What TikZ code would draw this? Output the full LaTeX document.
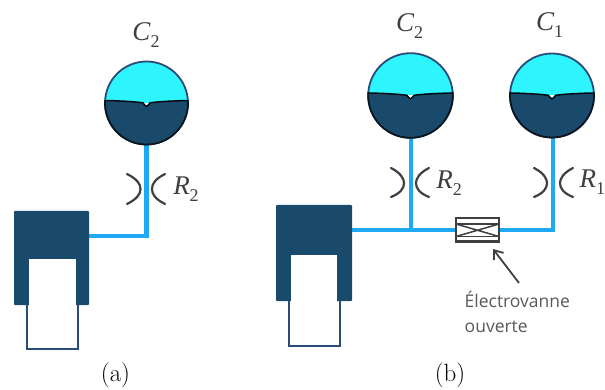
\documentclass[tikz,border=0pt]{standalone}
\usepackage{fontspec}
\setmainfont{Latin Modern Roman}
\newfontfamily\symfont{Liberation Serif}
\newfontfamily\lblfont{Open Sans}
\definecolor{cyanfill}{HTML}{2EF4FE}
\definecolor{navy}{HTML}{1A4A6B}
\definecolor{edgeblue}{HTML}{2B4B78}
\definecolor{tube}{HTML}{1FA9F5}
\definecolor{inkgray}{HTML}{3F3F3F}
\definecolor{softgray}{HTML}{595959}
\newcommand{\symsub}[1]{\raisebox{-0.55ex}{\fontsize{18}{18}\selectfont\upshape #1}}
\tikzset{
  x=1pt,y=-1pt,
  tubeline/.style={draw=tube,line width=4.2pt},
  restrictor/.style={draw=inkgray,line width=2.2pt,line cap=round},
  body/.style={fill=navy,draw=none},
  whitebox/.style={fill=white,draw=none},
  symlbl/.style={text=inkgray,font=\symfont\itshape\fontsize{27}{27}\selectfont,inner sep=0pt},
  caplbl/.style={text=black,font=\fontsize{25}{26}\selectfont,inner sep=0pt},
  smalllbl/.style={text=softgray,font=\lblfont\fontsize{17.5}{25}\selectfont,inner sep=0pt,align=left}
}
\newcommand{\levelline}[2]{%
  ($(#1)+(-45,#2-2.6)$) .. controls ($(#1)+(-25,#2-2.2)$) and ($(#1)+(-10,#2-1.2)$) .. ($(#1)+(-3.6,#2-.2)$) .. controls ($(#1)+(-2,#2+.4)$) and ($(#1)+(-2.2,#2+3.4)$) .. ($(#1)+(0,#2+3.4)$) .. controls ($(#1)+(2.2,#2+3.4)$) and ($(#1)+(2,#2+.4)$) .. ($(#1)+(3.6,#2-.2)$) .. controls ($(#1)+(10,#2-1.2)$) and ($(#1)+(25,#2-2.2)$) .. ($(#1)+(45,#2-2.6)$)}
\newcommand{\accuhalf}[3]{% center name, radius, level offset
  \begin{scope}
    \clip (#1) circle[radius=#2];
    \fill[cyanfill] ($(#1)+(-50,-50)$) rectangle ($(#1)+(50,#3)$);
    \fill[navy] \levelline{#1}{#3} -- ($(#1)+(45,50)$) -- ($(#1)+(-45,50)$) -- cycle;
    \draw[black!85!navy,line width=1.5pt] \levelline{#1}{#3};
  \end{scope}
  \draw[edgeblue,line width=1.8pt] (#1) circle[radius=#2];
  \begin{scope}
    \clip ($(#1)+(-50,#3-2.5)$) rectangle ($(#1)+(50,50)$);
    \draw[black!70!navy,line width=1.8pt] (#1) circle[radius=#2];
  \end{scope}
}
\usetikzlibrary{calc,arrows.meta}
\begin{document}
\begin{tikzpicture}
\useasboundingbox (0,0) rectangle (605,390);
\fill[white] (0,0) rectangle (605,390);

% ---------- (a)
\coordinate (ca) at (146.5,103);
\coordinate (ja) at (146.5,236);
\coordinate (sa) at (89,236);
\coordinate (aBot) at (146.5,144);
\draw[tubeline] (aBot) -- (ja) -- (sa);
\accuhalf{ca}{41.5}{0}
\node[symlbl] (lCa) at (146,35) {C\symsub{2}};
\node[symlbl] (lRa) at (186,189) {R\symsub{2}};
\draw[restrictor] (127,174) .. controls (137,179) and (140.5,184) .. (140.5,189) .. controls (140.5,194) and (137,199) .. (127,204);
\draw[restrictor] (165,174) .. controls (155,179) and (152,184) .. (152,189) .. controls (152,194) and (155,199) .. (165,204);
\fill[body,rounded corners=.8pt] (14,211) rectangle (89,305);
\fill[whitebox] (28.5,259) rectangle (76,347.7);
\draw[edgeblue,line width=2pt] (26.5,305) -- (26.5,349) -- (77.8,349) -- (77.8,305);
\node[caplbl] (capa) at (115.5,375) {(a)};

% ---------- (b)
\coordinate (c2) at (410.5,95.5);
\coordinate (c1) at (552,95.5);
\coordinate (j2) at (411,230);
\coordinate (corner) at (553,230);
\coordinate (sb) at (352,230);
\coordinate (c2b) at (411,137);
\coordinate (c1b) at (553,137);
\draw[tubeline] (sb) -- (corner) -- (c1b);
\draw[tubeline] (c2b) -- (j2);
\accuhalf{c2}{42.3}{0}
\accuhalf{c1}{42}{0}
\node[symlbl] (lC2) at (409.5,26) {C\symsub{2}};
\node[symlbl] (lC1) at (549.5,25) {C\symsub{1}};
\node[symlbl] (lR2) at (449,183) {R\symsub{2}};
\node[symlbl,anchor=west] (lR1) at (579.5,182) {R\symsub{1}};
\draw[restrictor] (391,168) .. controls (401,173) and (404,179) .. (404,183) .. controls (404,188) and (401,193) .. (391,197);
\draw[restrictor] (429,168) .. controls (419,173) and (416,179) .. (416,183) .. controls (416,188) and (419,193) .. (429,197);
\draw[restrictor] (534,168) .. controls (544,173) and (547,179) .. (547,183) .. controls (547,188) and (544,193) .. (534,197);
\draw[restrictor] (573,168) .. controls (563,173) and (560,179) .. (560,183) .. controls (560,188) and (563,193) .. (573,197);
% valve
\draw[fill=white,draw=inkgray,line width=2pt] (456,218.5) rectangle (499,241.5);
\draw[inkgray,line width=1.5pt] (456,224) -- (499,224) (456,236.5) -- (499,236.5);
\draw[inkgray,line width=1.5pt] (456,224) -- (499,236.5) (456,236.5) -- (499,224);
% arrow
\coordinate (arrT) at (519,283);
\coordinate (arrH) at (493,249);
\draw[inkgray,line width=1.8pt,-{Straight Barb[length=8pt,width=12pt]}] (arrT) -- (arrH);
\node[smalllbl,anchor=north west] (lbl) at (464.5,291) {Électrovanne\\ouverte};
% cylinder
\fill[body,rounded corners=.8pt] (276,205) rectangle (352,301);
\fill[whitebox] (291,255) rectangle (337,345);
\draw[edgeblue,line width=2pt] (288.5,301) -- (288.5,346) -- (339.8,346) -- (339.8,301);
\node[caplbl] (capb) at (450,375) {(b)};
\end{tikzpicture}
\end{document}
